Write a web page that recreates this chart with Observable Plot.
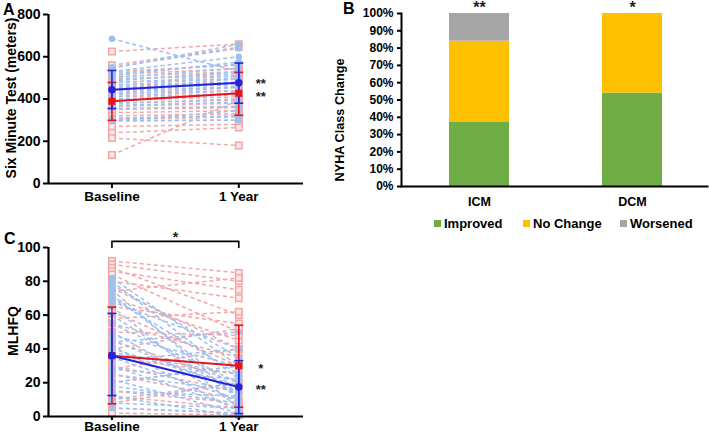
<!DOCTYPE html>
<html><head><meta charset="utf-8">
<script src="https://cdn.jsdelivr.net/npm/d3@7"></script>
<script src="https://cdn.jsdelivr.net/npm/@observablehq/plot@0.6"></script>
<style>
body{margin:0;background:#fff;font-family:"Liberation Sans",Arial,sans-serif;}
#wrap{position:relative;width:709px;height:436px;overflow:hidden;background:#fff;}
.panel{position:absolute;}
.plabel{position:absolute;font-weight:bold;font-size:16px;line-height:16px;color:#000;}
.ylab{position:absolute;font-weight:bold;white-space:nowrap;transform:translate(-50%,-50%) rotate(-90deg);color:#000;}
.leg{position:absolute;top:216px;font-weight:bold;font-size:13px;white-space:nowrap;color:#000;}
.leg span.sw{display:inline-block;width:7px;height:7px;margin-right:3px;vertical-align:1px;}
</style></head>
<body><div id="wrap">
<div class="panel" id="pA" style="left:0;top:0"></div>
<div class="panel" id="pB" style="left:355px;top:0"></div>
<div class="panel" id="pC" style="left:0;top:200px"></div>
<div class="plabel" style="left:3px;top:2px">A</div>
<div class="plabel" style="left:343px;top:1px">B</div>
<div class="plabel" style="left:4px;top:231px">C</div>
<div class="ylab" style="left:11px;top:98px;font-size:14px">Six Minute Test (meters)</div>
<div class="ylab" style="left:13px;top:331px;font-size:14px">MLHFQ</div>
<div class="ylab" style="left:340px;top:120px;font-size:12.7px">NYHA Class Change</div>
<div id="legend"></div>
</div>
<script>
// ---------- shared ----------
const timepoints = ["Baseline", "1 Year"];

// ---------- Panel A: Six Minute Test (meters) ----------
const sixMinDcmBaseline = [685, 550, 545, 530, 520, 510, 500, 492, 485, 475, 465, 455, 448, 440, 430, 420, 412, 400, 390, 380, 370, 355, 310, 300, 295];
const sixMinDcmYear1    = [530, 640, 660, 600, 565, 575, 545, 520, 530, 510, 500, 480, 495, 470, 460, 455, 440, 420, 430, 400, 385, 365, 320, 300, 345];
const sixMinIcmBaseline = [625, 560, 530, 515, 505, 495, 480, 465, 450, 440, 425, 410, 395, 380, 365, 350, 335, 320, 305, 295, 270, 240, 215, 135];
const sixMinIcmYear1    = [660, 645, 560, 545, 530, 510, 495, 480, 470, 455, 440, 425, 410, 395, 380, 360, 345, 330, 315, 300, 280, 265, 180, 395];
const sixMinDcmMean = [444, 477];
const sixMinDcmLow  = [355, 380];
const sixMinDcmHigh = [535, 570];
const sixMinIcmMean = [389, 427];
const sixMinIcmLow  = [299, 323];
const sixMinIcmHigh = [478, 526];
const sixMinStars   = ["**", "**"]; // DCM, ICM at 1 year

// ---------- Panel C: MLHFQ ----------
const mlhfqDcmBaseline = [82, 80, 78, 75, 72, 70, 68, 65, 60, 55, 50, 48, 45, 44, 42, 40, 38, 35, 33, 30, 28, 25, 22, 20, 18, 15, 12, 10, 8, 5];
const mlhfqDcmYear1    = [30, 22, 35, 10, 15, 25, 40, 5, 12, 20, 8, 30, 15, 50, 3, 18, 25, 10, 40, 5, 22, 15, 2, 30, 8, 12, 0, 20, 5, 2];
const mlhfqIcmBaseline = [92, 90, 88, 86, 84, 80, 76, 74, 70, 65, 62, 58, 55, 50, 45, 40, 35, 30, 28, 25, 20, 15, 12, 8, 5, 2];
const mlhfqIcmYear1    = [85, 80, 60, 75, 50, 70, 40, 82, 45, 55, 30, 62, 35, 48, 20, 52, 25, 15, 40, 10, 30, 8, 5, 20, 2, 1];
const mlhfqDcmMean = [36, 17.5];
const mlhfqDcmLow  = [12.4, 1.7];
const mlhfqDcmHigh = [61, 33];
const mlhfqIcmMean = [36, 30];
const mlhfqIcmLow  = [7.5, 5.5];
const mlhfqIcmHigh = [64.7, 54];
const mlhfqStars   = ["**", "*"]; // DCM, ICM at 1 year
const mlhfqBracketStar = "*";

// ---------- Panel B: NYHA class change ----------
const nyhaGroups = ["ICM", "DCM"];
const nyhaCategories = ["Improved", "No Change", "Worsened"];
const nyhaImproved = [0.37, 0.54];
const nyhaNoChange = [0.47, 0.46];
const nyhaWorsened = [0.16, 0.00];
const nyhaStars = ["**", "*"];
const nyhaTicks = [0, 0.1, 0.2, 0.3, 0.4, 0.5, 0.6, 0.7, 0.8, 0.9, 1.0];

// ---------- colours ----------
const lightBlue = "#9ec0ee";
const lightRed = "#f4a6a6";
const darkBlue = "#2323dc";
const darkRed = "#e8141c";
const catColors = ["#70ad47", "#ffc000", "#a5a5a5"];

// ---------- helpers ----------
const pairs = (b, y) => b.map((v, i) => ({b: v, y: y[i]}));
const points = (b, y) => b.map(v => ({x: 0, v})).concat(y.map(v => ({x: 1, v})));
const summary = (m, lo, hi) => m.map((v, i) => ({x: i, v, lo: lo[i], hi: hi[i]}));
const capSymbol = {draw(ctx) { ctx.moveTo(-4.5, 0); ctx.lineTo(4.5, 0); }};

function pairedPanel(o) {
  const icmPairs = pairs(o.icmB, o.icmY), dcmPairs = pairs(o.dcmB, o.dcmY);
  const icmPts = points(o.icmB, o.icmY), dcmPts = points(o.dcmB, o.dcmY);
  const icmSum = summary(o.icmM, o.icmL, o.icmH), dcmSum = summary(o.dcmM, o.dcmL, o.dcmH);
  const caps = s => s.flatMap(d => [{x: d.x, v: d.lo}, {x: d.x, v: d.hi}]);
  return Plot.plot({
    width: 320, height: o.height,
    marginLeft: 48, marginRight: 17, marginTop: o.mt, marginBottom: o.mb,
    x: {domain: [-0.5, 1.51], axis: null},
    y: {domain: o.ydomain, axis: null},
    style: {fontFamily: "Liberation Sans, Arial, sans-serif", fontWeight: "bold", fontSize: "14px", color: "#000", background: "transparent", overflow: "visible"},
    marks: [
      Plot.link(icmPairs, {x1: () => 0, x2: () => 1, y1: "b", y2: "y", stroke: lightRed, strokeWidth: 1.5, strokeDasharray: "4,3"}),
      Plot.link(dcmPairs, {x1: () => 0, x2: () => 1, y1: "b", y2: "y", stroke: lightBlue, strokeWidth: 1.5, strokeDasharray: "4,3"}),
      Plot.dot(icmPts, {x: "x", y: "v", symbol: "square", r: 3.6, stroke: lightRed, strokeWidth: 1.5, fill: "#fde8e8"}),
      Plot.dot(dcmPts, {x: "x", y: "v", r: 3.2, fill: lightBlue}),
      ...(o.extra || []),
      Plot.line(icmSum, {x: "x", y: "v", stroke: darkRed, strokeWidth: 2}),
      Plot.ruleX(icmSum, {x: "x", y1: "lo", y2: "hi", stroke: darkRed, strokeWidth: 1.6}),
      Plot.dot(caps(icmSum), {x: "x", y: "v", symbol: capSymbol, stroke: darkRed, strokeWidth: 1.6, fill: "none"}),
      Plot.line(dcmSum, {x: "x", y: "v", stroke: darkBlue, strokeWidth: 2}),
      Plot.ruleX(dcmSum, {x: "x", y1: "lo", y2: "hi", stroke: darkBlue, strokeWidth: 1.6}),
      Plot.dot(caps(dcmSum), {x: "x", y: "v", symbol: capSymbol, stroke: darkBlue, strokeWidth: 1.6, fill: "none"}),
      Plot.dot(icmSum, {x: "x", y: "v", symbol: "square", r: 4, fill: darkRed}),
      Plot.dot(dcmSum, {x: "x", y: "v", r: 3.8, fill: darkBlue}),
      Plot.text([{x: 1, v: o.dcmM[1], s: o.stars[0]}], {x: "x", y: "v", text: "s", dx: 22, dy: o.starDy[0], fontSize: 13, fill: "#222"}),
      Plot.text([{x: 1, v: o.icmM[1], s: o.stars[1]}], {x: "x", y: "v", text: "s", dx: 22, dy: o.starDy[1], fontSize: 13, fill: "#222"}),
      Plot.ruleX([-0.5], {stroke: "#000", strokeWidth: 2.2}),
      Plot.ruleY([o.ydomain[0]], {stroke: "#000", strokeWidth: 2.2}),
      Plot.axisY({ticks: o.yticks, tickSize: 5, tickPadding: 3, strokeWidth: 2, fontSize: 14, fontWeight: "bold", label: null}),
      Plot.axisX({ticks: [0, 1], tickFormat: i => timepoints[i], tickSize: o.xtick, tickPadding: o.xpad, strokeWidth: 2, fontSize: 13.5, fontWeight: "bold", label: null})
    ]
  });
}

// Panel A
document.getElementById("pA").append(pairedPanel({
  height: 215, mt: 14, mb: 32, ydomain: [0, 800], yticks: [0, 200, 400, 600, 800],
  icmB: sixMinIcmBaseline, icmY: sixMinIcmYear1, dcmB: sixMinDcmBaseline, dcmY: sixMinDcmYear1,
  icmM: sixMinIcmMean, icmL: sixMinIcmLow, icmH: sixMinIcmHigh,
  dcmM: sixMinDcmMean, dcmL: sixMinDcmLow, dcmH: sixMinDcmHigh,
  stars: sixMinStars, starDy: [1, 4], xtick: 5, xpad: 3
}));

// Panel C
const bracket = [{x: 0, v: 100}, {x: 0, v: 103.6}, {x: 1, v: 103.6}, {x: 1, v: 100}];
document.getElementById("pC").append(pairedPanel({
  height: 236, mt: 47, mb: 20, ydomain: [0, 100], yticks: [0, 20, 40, 60, 80, 100],
  icmB: mlhfqIcmBaseline, icmY: mlhfqIcmYear1, dcmB: mlhfqDcmBaseline, dcmY: mlhfqDcmYear1,
  icmM: mlhfqIcmMean, icmL: mlhfqIcmLow, icmH: mlhfqIcmHigh,
  dcmM: mlhfqDcmMean, dcmL: mlhfqDcmLow, dcmH: mlhfqDcmHigh,
  stars: mlhfqStars, starDy: [3, 3], xtick: 4, xpad: 1,
  extra: [
    Plot.line(bracket, {x: "x", y: "v", stroke: "#000", strokeWidth: 1.6}),
    Plot.text([{x: 0.5, v: 103.6}], {x: "x", y: "v", text: () => mlhfqBracketStar, dy: -4, fontSize: 14, fill: "#222"})
  ]
}));

// Panel B
const nyhaData = nyhaGroups.flatMap((g, i) => [
  {group: g, cat: nyhaCategories[0], pct: nyhaImproved[i]},
  {group: g, cat: nyhaCategories[1], pct: nyhaNoChange[i]},
  {group: g, cat: nyhaCategories[2], pct: nyhaWorsened[i]}
]);
const nyhaTop = nyhaGroups.map((g, i) => ({group: g, t: nyhaImproved[i] + nyhaNoChange[i] + nyhaWorsened[i], s: nyhaStars[i]}));
document.getElementById("pB").append(Plot.plot({
  width: 354, height: 215, marginLeft: 46, marginRight: 0.5, marginTop: 13, marginBottom: 29,
  x: {domain: nyhaGroups, range: [48, 353.5], paddingInner: 0.61, paddingOuter: 0.3, align: 0.5, axis: null},
  y: {domain: [0, 1], axis: null},
  color: {domain: nyhaCategories, range: catColors},
  style: {fontFamily: "Liberation Sans, Arial, sans-serif", fontWeight: "bold", fontSize: "12px", color: "#000", background: "transparent", overflow: "visible"},
  marks: [
    Plot.barY(nyhaData, {x: "group", y: "pct", fill: "cat"}),
    Plot.text(nyhaTop, {x: "group", y: "t", text: "s", dy: -6, fontSize: 16, fill: "#222"}),
    Plot.frame({anchor: "left", stroke: "#000", strokeWidth: 2}),
    Plot.ruleY([0], {stroke: "#000", strokeWidth: 2}),
    Plot.axisY({ticks: nyhaTicks, tickFormat: d3.format(".0%"), tickSize: 4, tickPadding: 4, strokeWidth: 2, fontSize: 12, fontWeight: "bold", label: null}),
    Plot.axisX({tickSize: 0, tickPadding: 11, fontSize: 12.5, fontWeight: "bold", label: null})
  ]
}));
</script>
<script>
// Legend for panel B
(function(){
  const lefts = [434, 523, 620];
  const lg = document.getElementById("legend");
  nyhaCategories.forEach((c, i) => {
    const d = document.createElement("div");
    d.className = "leg";
    d.style.left = lefts[i] + "px";
    d.innerHTML = `<span class="sw" style="background:${catColors[i]}"></span>${c}`;
    lg.append(d);
  });
})();
</script>
</body></html>
